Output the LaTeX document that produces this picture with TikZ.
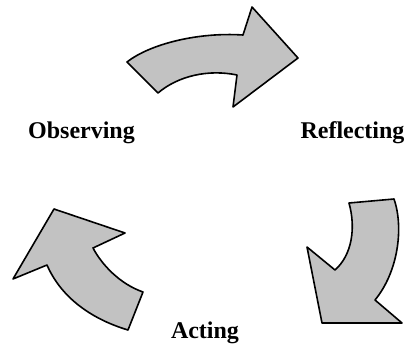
\documentclass[tikz,border=0pt]{standalone}
\usepackage{fontspec}
\setmainfont{Liberation Serif}
\begin{document}
\begin{tikzpicture}[x=1pt,y=-1pt,
  cyclearrow/.style={draw=black, line width=1.6pt, line join=round, fill=black!24},
  stagelabel/.style={font=\fontsize{24}{27}\selectfont\bfseries, inner sep=0pt, anchor=base}]
\useasboundingbox (0,0) rectangle (407,345);

% upper arrow, pointing right
\path[cyclearrow] (127,62) .. controls (150,44) and (198,32) .. (243,35)
  -- (252,7) -- (298,58) -- (233,107) -- (237,75)
  .. controls (208,69) and (178,76) .. (158,93) -- cycle;

% right arrow, pointing down
\path[cyclearrow] (349,203) -- (394,199)
  .. controls (404,228) and (398,272) .. (375,300)
  -- (402,323) -- (322,323) -- (307,247) -- (335,270)
  .. controls (352,255) and (356,228) .. (349,203) -- cycle;

% left arrow, pointing up-left
\path[cyclearrow] (54,209) -- (125,233) -- (93,248)
  .. controls (102,265) and (120,284) .. (143,292)
  -- (128,330) .. controls (88,318) and (60,295) .. (47,265)
  -- (13,279) -- cycle;

\node[stagelabel] (observing) at (81.5,138) {Observing};
\node[stagelabel] (reflecting) at (352.5,138) {Reflecting};
\node[stagelabel] (acting) at (205,338) {Acting};
\end{tikzpicture}
\end{document}
